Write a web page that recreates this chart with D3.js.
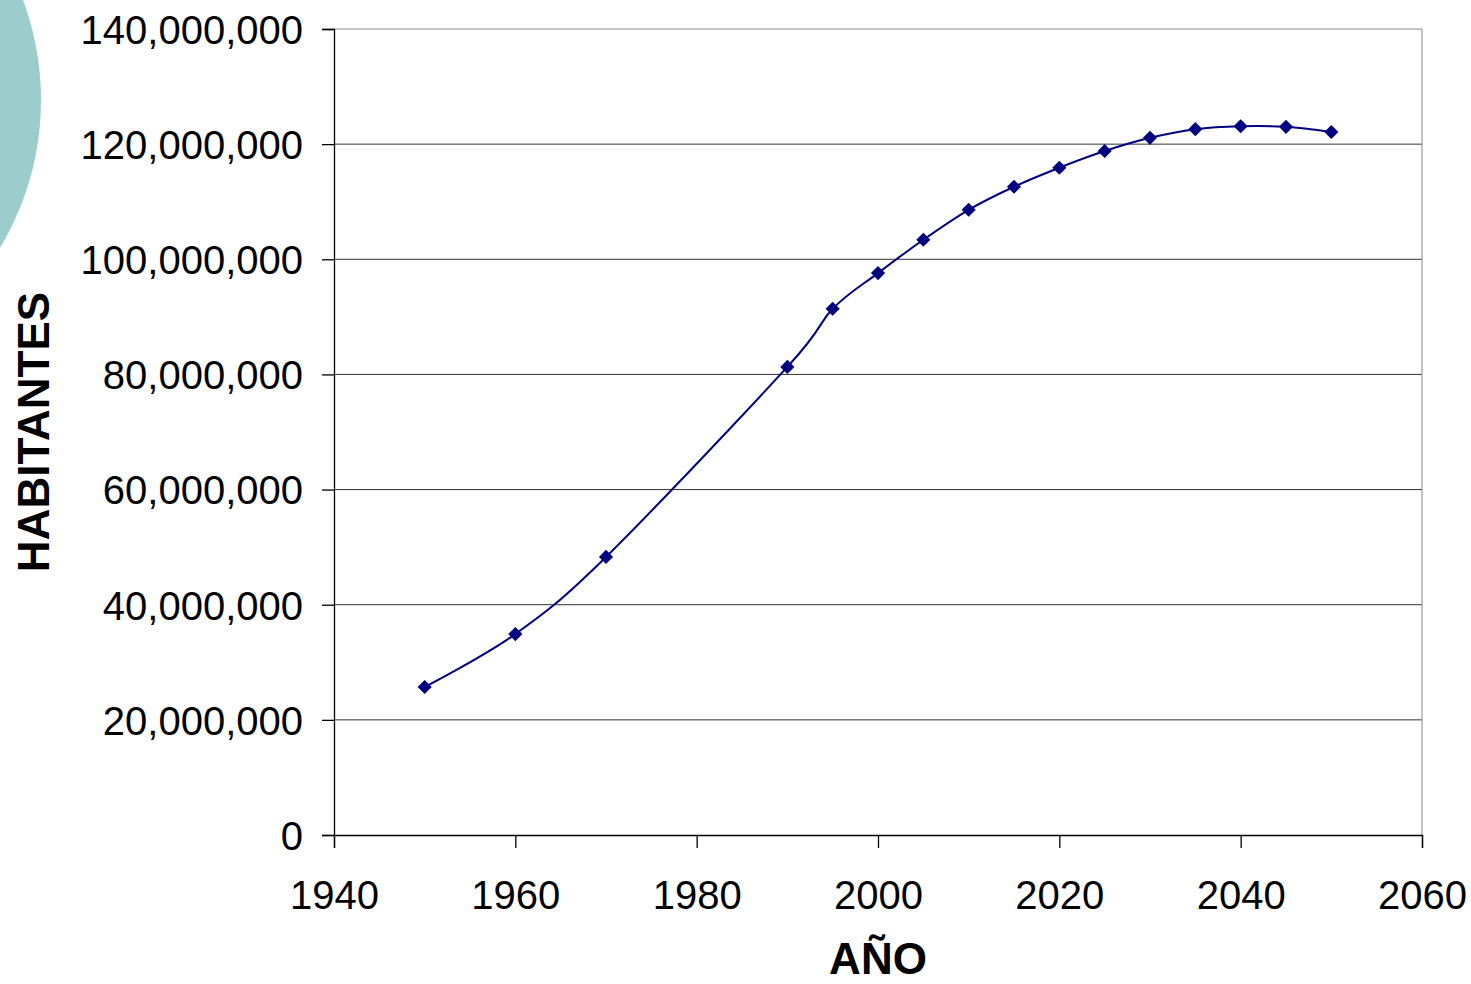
<!DOCTYPE html>
<html><head><meta charset="utf-8">
<script src="https://cdn.jsdelivr.net/npm/d3@7"></script>
<style>html,body{margin:0;padding:0;background:#fff;overflow:hidden}</style>
</head><body>
<svg id="c" width="1471" height="984"></svg>
<script>
const years = [1950,1960,1970,1990,1995,2000,2005,2010,2015,2020,2025,2030,2035,2040,2045,2050];
const population = [25.7e6,34.9e6,48.3e6,81.3e6,91.4e6,97.6e6,103.4e6,108.6e6,112.6e6,115.9e6,118.8e6,121.1e6,122.6e6,123.1e6,123.0e6,122.1e6];
const xTicks = [1940,1960,1980,2000,2020,2040,2060];
const yTicks = [0,20e6,40e6,60e6,80e6,100e6,120e6,140e6];
const xTitle = "AÑO";
const yTitle = "HABITANTES";

const svg = d3.select("#c");
const L=334,R=1422,T=29,B=835;
const x = d3.scaleLinear().domain([1940,2060]).range([L,R]);
const y = d3.scaleLinear().domain([0,140e6]).range([B,T]);

// decorative circle
svg.append("circle").attr("cx",-246).attr("cy",100).attr("r",287).attr("fill","#9ccccc");

// gridlines
svg.append("g").selectAll("line").data(yTicks.filter(d=>d>0)).join("line")
  .attr("x1",L).attr("x2",R).attr("y1",d=>y(d)).attr("y2",d=>y(d))
  .attr("stroke",d=>d===140e6?"#888":"#333").attr("stroke-width",1);
// right border
svg.append("line").attr("x1",R).attr("x2",R).attr("y1",T).attr("y2",B).attr("stroke","#888");

const fmt = d3.format(",");
const yAxis = svg.append("g").attr("transform",`translate(${L},0)`)
  .call(d3.axisLeft(y).tickValues(yTicks).tickFormat(fmt).tickSize(12).tickPadding(19));
const xAxis = svg.append("g").attr("transform",`translate(0,${B})`)
  .call(d3.axisBottom(x).tickValues(xTicks).tickFormat(d3.format("d")).tickSize(13).tickPadding(32));
[yAxis,xAxis].forEach(a=>{
  a.selectAll("text").attr("font-family","'Liberation Sans',Arial,sans-serif").attr("font-size",40).attr("fill","#000");
  a.selectAll("line,path").attr("stroke","#000").attr("stroke-width",1.3);
});
yAxis.selectAll("text").attr("dy","0.36em");
xAxis.selectAll("text").attr("dy","0.72em");

// line
const line = d3.line().x((d,i)=>x(years[i])).y(d=>y(d)).curve(d3.curveCatmullRom.alpha(0));
svg.append("path").datum(population).attr("d",line).attr("fill","none").attr("stroke","#000080").attr("stroke-width",2);
svg.append("g").selectAll("path").data(population).join("path")
  .attr("transform",(d,i)=>`translate(${x(years[i])},${y(d)}) rotate(45)`)
  .attr("d",d3.symbol().type(d3.symbolSquare).size(100)).attr("fill","#000080");

// titles
svg.append("text").attr("x",(L+R)/2).attr("y",974).attr("text-anchor","middle")
  .attr("font-family","'Liberation Sans',Arial,sans-serif").attr("font-weight","bold").attr("font-size",44).text(xTitle);
svg.append("text").attr("transform",`translate(49,${432}) rotate(-90)`).attr("text-anchor","middle")
  .attr("font-family","'Liberation Sans',Arial,sans-serif").attr("font-weight","bold").attr("font-size",44).text(yTitle);
</script>
</body></html>
